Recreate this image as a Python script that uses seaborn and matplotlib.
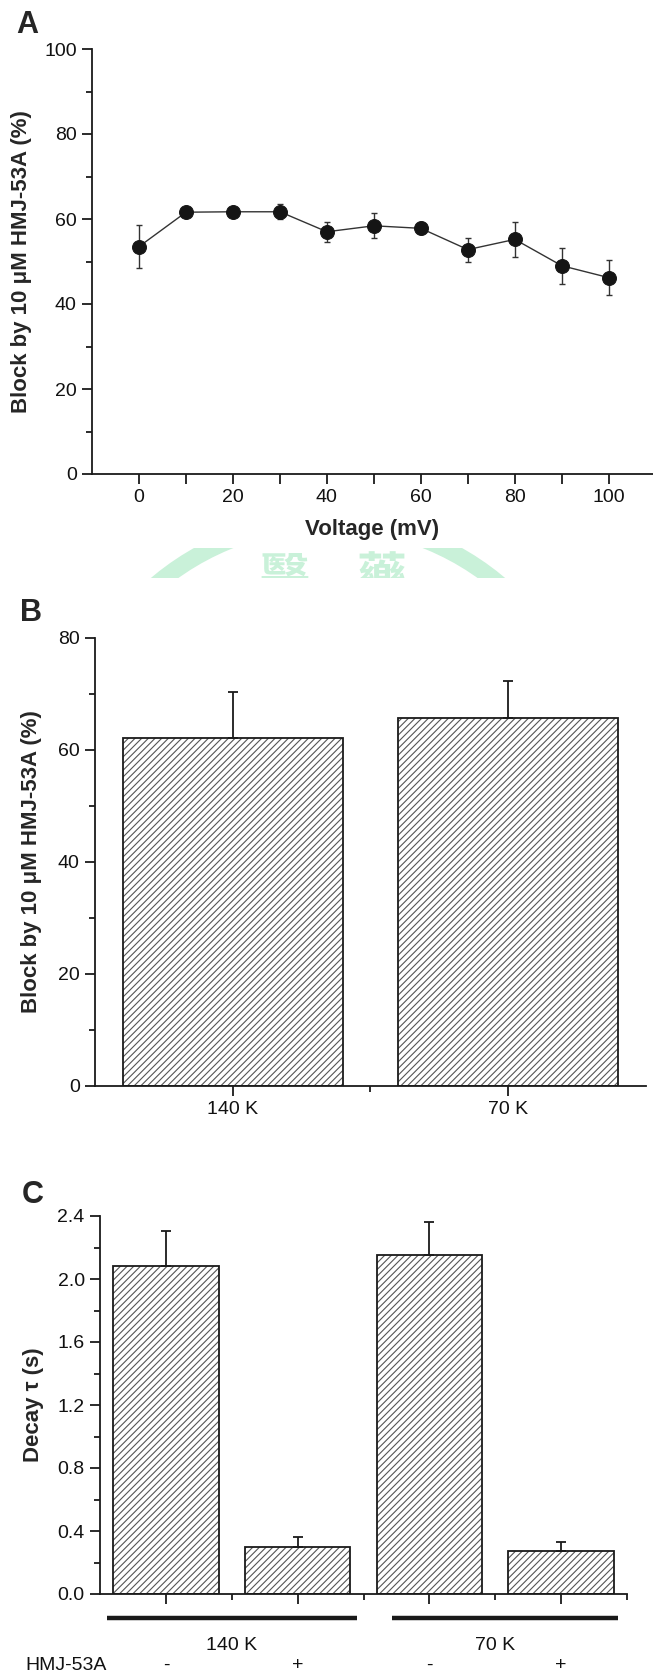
import numpy as np
import pandas as pd
import matplotlib
matplotlib.use("Agg")
import matplotlib.pyplot as plt
import seaborn as sns
from matplotlib.ticker import FixedLocator, FuncFormatter, NullFormatter
from matplotlib.patches import Rectangle, Wedge
from matplotlib.transforms import Bbox, TransformedBbox

# ---------------- data ----------------
voltage = [0, 10, 20, 30, 40, 50, 60, 70, 80, 90, 100]
block_mean = [53.5, 61.6, 61.7, 61.7, 57.0, 58.4, 57.8, 52.8, 55.2, 49.0, 46.2]
block_sem = [5.1, 0.8, 0.8, 1.8, 2.3, 2.9, 1.4, 2.8, 4.1, 4.2, 4.05]

b_cats = ["140 K", "70 K"]
b_mean = [62.1, 65.7]
b_sem = [8.3, 6.7]

c_cats = ["140 K / -", "140 K / +", "70 K / -", "70 K / +"]
c_mean = [2.08, 0.30, 2.15, 0.276]
c_sem = [0.225, 0.065, 0.215, 0.055]
c_groups = ["140 K", "70 K"]
c_drug = ["-", "+", "-", "+"]

# ---------------- style ----------------
sns.set_style("ticks")
plt.rcParams["font.family"] = ["Liberation Sans", "DejaVu Sans"]
plt.rcParams["hatch.linewidth"] = 0.8

W, H = 653, 1679
fig = plt.figure(figsize=(W / 100, H / 100), dpi=100)


def rect(l, t, r, b):
    return [l / W, 1 - b / H, (r - l) / W, (b - t) / H]


INK = "#1a1a1a"
TICK_FS = 14
LAB_FS = 16

# watermark (behind everything)
axw = fig.add_axes([0, 0, 1, 1], zorder=-5)
axw.set_xlim(0, W)
axw.set_ylim(H, 0)
axw.axis("off")
wm_col = "#c9f1d9"
clip_box = TransformedBbox(Bbox.from_extents(0, (H - 578) / H, 1, (H - 548) / H), fig.transFigure)
ring = Wedge((328, 787), 274, 0, 360, width=17, color=wm_col, lw=0)
axw.add_patch(ring)
ring.set_clip_box(clip_box)
for ch, xc in [("醫", 284), ("藥", 381)]:
    t = axw.text(xc, 579, ch, color=wm_col, fontsize=36, ha="center", va="center",
                 family=["Noto Sans CJK TC", "DejaVu Sans"], fontweight="bold")
    t.set_clip_box(clip_box)
    t.set_clip_on(True)


def style_axes(ax):
    sns.despine(ax=ax)
    for s in ("left", "bottom"):
        ax.spines[s].set_linewidth(1.3)
        ax.spines[s].set_color(INK)
    ax.set_facecolor("none")
    ax.tick_params(which="major", direction="out", length=7, width=1.3, color=INK,
                   labelsize=TICK_FS, labelcolor="#111")
    ax.tick_params(which="minor", direction="out", length=4, width=1.3, color=INK)
    ax.tick_params(axis="y", which="major", pad=4)
    ax.tick_params(axis="x", which="major", pad=4)


def hatched_bars(ax, cats, means):
    sns.barplot(x=cats, y=means, ax=ax, color="white", edgecolor="#555555",
                linewidth=0, hatch="/////", errorbar=None, width=0.8, zorder=2)
    for p in list(ax.patches):
        ax.add_patch(Rectangle(p.get_xy(), p.get_width(), p.get_height(), fill=False,
                               ec=INK, lw=1.3, zorder=3))


# ---------------- Panel A ----------------
axA = fig.add_axes(rect(92, 49, 653, 474))
axA.errorbar(voltage, block_mean, yerr=block_sem, fmt="none", ecolor="#333333",
             elinewidth=1.0, capsize=2.5, capthick=1.0, zorder=2)
sns.lineplot(x=voltage, y=block_mean, ax=axA, color="#333333", lw=1.0, marker="o",
             markersize=10, markerfacecolor="#151515", markeredgecolor="#151515",
             zorder=3)
axA.set_xlim(-10, 109.4)
axA.set_ylim(0, 100)
style_axes(axA)
axA.xaxis.set_major_locator(FixedLocator(list(range(0, 101, 10))))
axA.xaxis.set_major_formatter(FuncFormatter(lambda v, p: f"{int(round(v))}" if round(v) % 20 == 0 else ""))
axA.yaxis.set_major_locator(FixedLocator([0, 20, 40, 60, 80, 100]))
axA.yaxis.set_minor_locator(FixedLocator([10, 30, 50, 70, 90]))
axA.set_xlabel("Voltage (mV)", fontsize=LAB_FS, fontweight="bold", va="center")
axA.xaxis.set_label_coords(0.5, -(529 - 474) / (474 - 49))
axA.set_ylabel("Block by 10 μM HMJ-53A (%)", fontsize=LAB_FS, fontweight="bold", va="center")
axA.yaxis.set_label_coords(-(92 - 22) / (653 - 92), 0.5)

# ---------------- Panel B ----------------
axB = fig.add_axes(rect(95, 638, 645.5, 1086))
hatched_bars(axB, b_cats, b_mean)
axB.errorbar(range(len(b_cats)), b_mean, yerr=[np.zeros(len(b_sem)), b_sem], fmt="none",
             ecolor=INK, elinewidth=1.3, capsize=3.5, capthick=1.3, zorder=4)
axB.set_xlim(-0.5, 1.5)
axB.set_ylim(0, 80)
style_axes(axB)
axB.yaxis.set_major_locator(FixedLocator([0, 20, 40, 60, 80]))
axB.yaxis.set_minor_locator(FixedLocator([10, 30, 50, 70]))
axB.xaxis.set_minor_locator(FixedLocator([0.5]))
axB.set_xlabel("")
axB.set_ylabel("Block by 10 μM HMJ-53A (%)", fontsize=LAB_FS, fontweight="bold", va="center")
axB.yaxis.set_label_coords(-(95 - 32) / (645.5 - 95), 0.5)

# ---------------- Panel C ----------------
axC = fig.add_axes(rect(100, 1216, 627, 1594))
hatched_bars(axC, c_cats, c_mean)
axC.errorbar(range(len(c_cats)), c_mean, yerr=[np.zeros(len(c_sem)), c_sem], fmt="none",
             ecolor=INK, elinewidth=1.3, capsize=3.5, capthick=1.3, zorder=4)
axC.set_xlim(-0.5, 3.5)
axC.set_ylim(0, 2.4)
style_axes(axC)
axC.yaxis.set_major_locator(FixedLocator([0, 0.4, 0.8, 1.2, 1.6, 2.0, 2.4]))
axC.yaxis.set_major_formatter(FuncFormatter(lambda v, p: f"{v:.1f}"))
axC.yaxis.set_minor_locator(FixedLocator([0.2, 0.6, 1.0, 1.4, 1.8, 2.2]))
axC.xaxis.set_major_locator(FixedLocator([0, 1, 2, 3]))
axC.xaxis.set_major_formatter(NullFormatter())
axC.xaxis.set_minor_locator(FixedLocator([0.5, 1.5, 2.5, 3.5]))
axC.set_xlabel("")
axC.set_ylabel("Decay τ (s)", fontsize=LAB_FS, fontweight="bold", va="center")
axC.yaxis.set_label_coords(-(100 - 34) / (627 - 100), 0.5)

trC = axC.get_xaxis_transform()
hC = 1594 - 1216
y_line = -(1618 - 1594) / hC
y_grp = -(1645 - 1594) / hC
y_drug = -(1665 - 1594) / hC
for g, (x0, x1) in zip(c_groups, [(-0.444, 1.45), (1.715, 3.43)]):
    axC.plot([x0, x1], [y_line, y_line], transform=trC, color=INK, lw=3.2,
             clip_on=False, solid_capstyle="butt")
for g, xc in zip(c_groups, [0.5, 2.5]):
    axC.text(xc, y_grp, g, transform=trC, ha="center", va="center", fontsize=TICK_FS, color="#111")
axC.text(-1.07, y_drug, "HMJ-53A", transform=trC, ha="left", va="center", fontsize=TICK_FS, color="#111")
for i, d in enumerate(c_drug):
    axC.text(i, y_drug, d, transform=trC, ha="center", va="center", fontsize=TICK_FS, color="#111")

# panel letters
for lab, (x, y) in {"A": (27, 25), "B": (31, 613), "C": (33, 1195)}.items():
    fig.text(x / W, 1 - y / H, lab, fontsize=22, fontweight="bold", ha="center", va="center")

fig.savefig("out.png", dpi=100)
